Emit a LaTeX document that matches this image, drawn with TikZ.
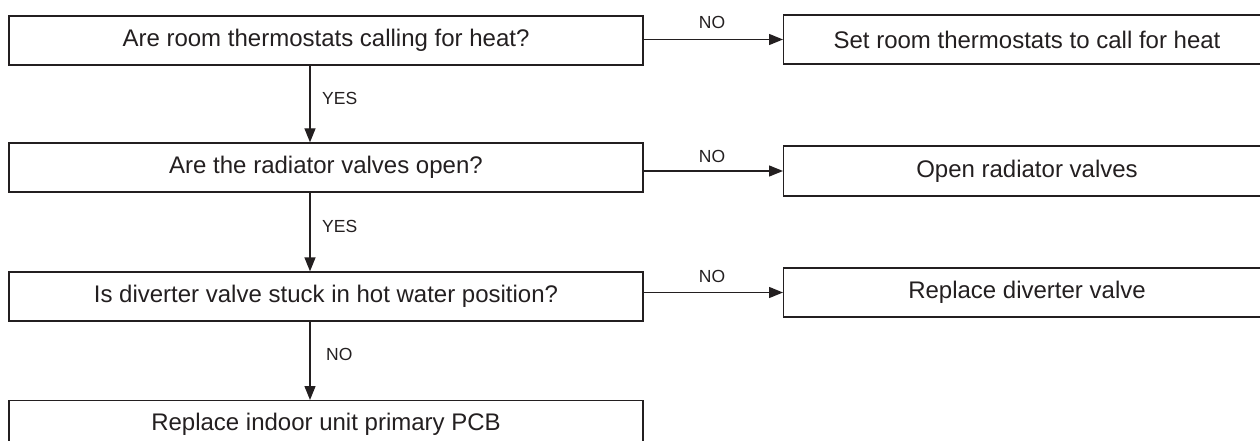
\documentclass[tikz,border=0pt]{standalone}
\usepackage{fontspec}
\setmainfont{Liberation Sans}
\usetikzlibrary{arrows.meta}
\definecolor{ink}{RGB}{35,31,32}
\begin{document}
\begin{tikzpicture}[x=1pt,y=-1pt,
  box/.style={draw=ink, line width=1.3pt, text=ink, inner sep=0pt},
  lbl/.style={text=ink, font=\fontsize{17.5}{17.5}\selectfont, inner sep=0pt},
  arr/.style={draw=ink, line width=1.3pt, -{Triangle[length=14pt,width=11pt]}},
  every node/.append style={font=\fontsize{24}{24}\selectfont}]
\useasboundingbox (0,0) rectangle (1260,441);
\clip (0,0) rectangle (1260,441);
\node[box, minimum width=634pt, minimum height=49pt] (q1) at (326,40.5) {Are room thermostats calling for heat?};
\node[box, minimum width=634pt, minimum height=49pt] (q2) at (326,167.5) {Are the radiator valves open?};
\node[box, minimum width=634pt, minimum height=49pt] (q3) at (326,296.5) {Is diverter valve stuck in hot water position?};
\node[box, minimum width=634pt, minimum height=49pt, anchor=north] (q4) at (326,400) {};
\node[text=ink] at (326,424.5) {Replace indoor unit primary PCB};
\node[box, minimum width=490pt, minimum height=49pt, anchor=west] (a1) at (783,39.5) {};
\node[text=ink] at (1027,39.5) {Set room thermostats to call for heat};
\node[box, minimum width=490pt, minimum height=50pt, anchor=west] (a2) at (783,171) {};
\node[text=ink] at (1027,171) {Open radiator valves};
\node[box, minimum width=490pt, minimum height=49pt, anchor=west] (a3) at (783,292.5) {};
\node[text=ink] at (1027,292.5) {Replace diverter valve};
\coordinate (vx) at (310,0);
\draw[arr] (q1.south -| vx) -- (q2.north -| vx);
\draw[arr] (q2.south -| vx) -- (q3.north -| vx);
\draw[arr] (q3.south -| vx) -- (q4.north -| vx);
\draw[arr] (q1.east |- a1.west) -- (a1.west);
\draw[arr] (q2.east |- a2.west) -- (a2.west);
\draw[arr] (q3.east |- a3.west) -- (a3.west);
\node[lbl, anchor=west] (y1) at (322,98) {YES};
\node[lbl, anchor=west] (y2) at (322,226) {YES};
\node[lbl, anchor=west] (n4) at (326,354) {NO};
\node[lbl] (n1) at (712,22) {NO};
\node[lbl] (n2) at (712,156) {NO};
\node[lbl] (n3) at (712,276) {NO};
\end{tikzpicture}
\end{document}
